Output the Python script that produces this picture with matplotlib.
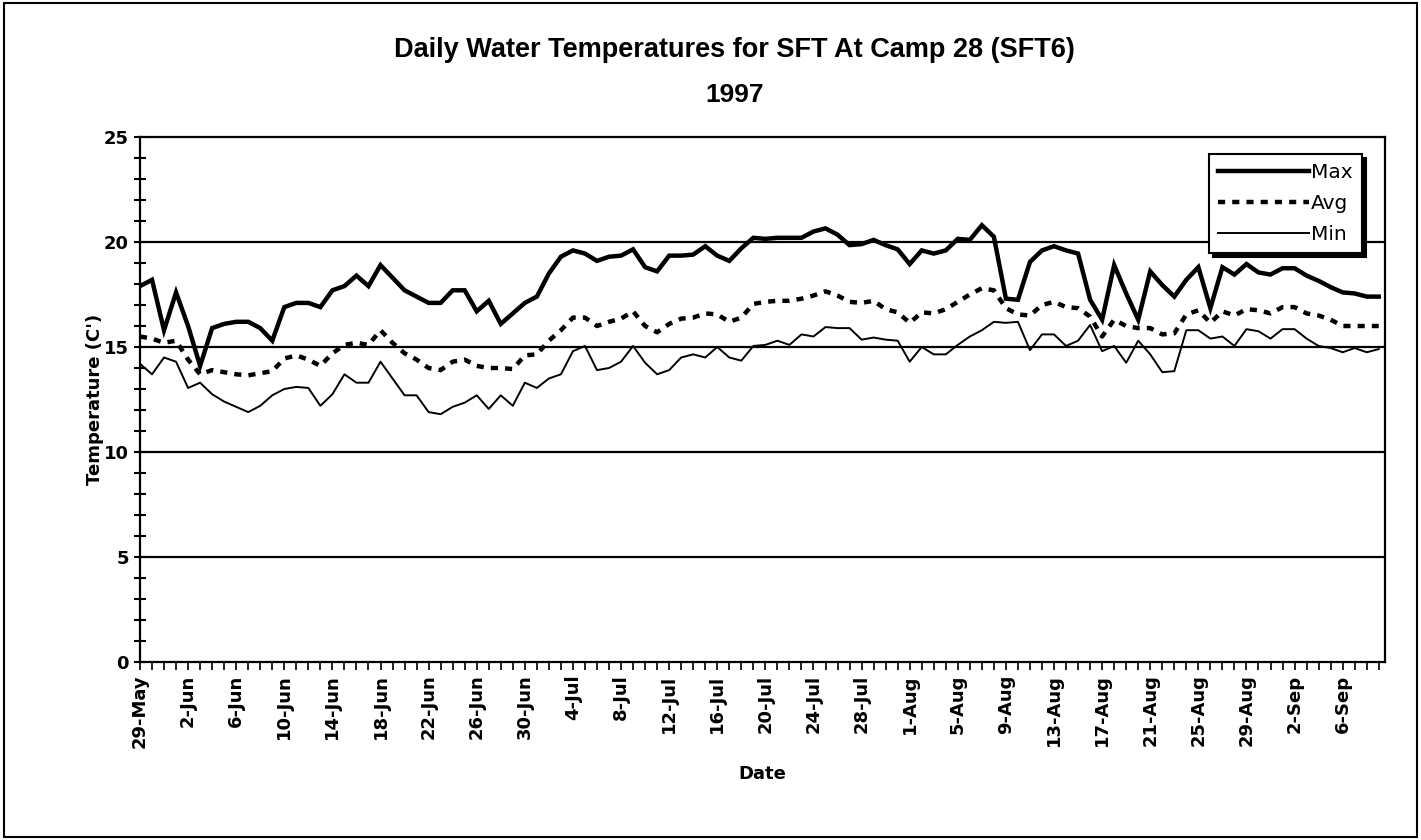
import matplotlib
matplotlib.use("Agg")
import matplotlib.pyplot as plt
import matplotlib.dates as mdates
import matplotlib.ticker as mticker
from matplotlib.patches import Rectangle
import pandas as pd

# daily water temperatures (C), 29-May to 9-Sep 1997
dates = pd.date_range("1997-05-29", "1997-09-09", freq="D")

max_t = [17.9, 18.2, 15.8, 17.6, 16.0, 14.1, 15.9, 16.1, 16.2, 16.2,
         15.9, 15.3, 16.9, 17.1, 17.1, 16.9, 17.7, 17.9, 18.4, 17.9,
         18.9, 18.3, 17.7, 17.4, 17.1, 17.1, 17.7, 17.7, 16.7, 17.2,
         16.1, 16.6, 17.1, 17.4, 18.5, 19.3, 19.6, 19.45, 19.1, 19.3,
         19.35, 19.65, 18.8, 18.6, 19.35, 19.35, 19.4, 19.8, 19.35, 19.1,
         19.7, 20.2, 20.15, 20.2, 20.2, 20.2, 20.5, 20.65, 20.35, 19.85,
         19.9, 20.1, 19.85, 19.65, 18.95, 19.6, 19.45, 19.6, 20.15, 20.1,
         20.8, 20.25, 17.3, 17.25, 19.05, 19.6, 19.8, 19.6, 19.45, 17.25,
         16.3, 18.9, 17.55, 16.3, 18.6, 17.95, 17.4, 18.2, 18.8, 16.85,
         18.8, 18.45, 18.95, 18.55, 18.45, 18.75, 18.75, 18.4, 18.15, 17.85,
         17.6, 17.55, 17.4, 17.4]

avg_t = [15.5, 15.4, 15.2, 15.3, 14.4, 13.7, 13.9, 13.8, 13.7, 13.65,
         13.75, 13.85, 14.45, 14.6, 14.4, 14.1, 14.7, 15.1, 15.2, 15.1,
         15.8, 15.2, 14.7, 14.4, 14.0, 13.9, 14.3, 14.4, 14.1, 14.0,
         14.0, 13.95, 14.6, 14.65, 15.3, 15.8, 16.4, 16.4, 16.0, 16.2,
         16.35, 16.7, 16.0, 15.7, 16.1, 16.35, 16.4, 16.6, 16.55, 16.2,
         16.4, 17.05, 17.15, 17.2, 17.2, 17.3, 17.45, 17.65, 17.45, 17.15,
         17.1, 17.2, 16.8, 16.65, 16.15, 16.65, 16.6, 16.8, 17.15, 17.5,
         17.8, 17.7, 16.85, 16.55, 16.5, 17.0, 17.15, 16.9, 16.85, 16.45,
         15.5, 16.3, 16.0, 15.9, 15.9, 15.6, 15.65, 16.55, 16.75, 16.15,
         16.7, 16.5, 16.8, 16.75, 16.6, 16.9, 16.9, 16.6, 16.5, 16.3,
         16.0, 16.0, 16.0, 16.0]

min_t = [14.2, 13.7, 14.5, 14.3, 13.05, 13.3, 12.75, 12.4, 12.15, 11.9,
         12.2, 12.7, 13.0, 13.1, 13.05, 12.2, 12.75, 13.7, 13.3, 13.3,
         14.3, 13.5, 12.7, 12.7, 11.9, 11.8, 12.15, 12.35, 12.7, 12.05,
         12.7, 12.2, 13.3, 13.05, 13.5, 13.7, 14.8, 15.05, 13.9, 14.0,
         14.3, 15.05, 14.25, 13.7, 13.9, 14.5, 14.65, 14.5, 15.0, 14.5,
         14.35, 15.05, 15.1, 15.3, 15.1, 15.6, 15.5, 15.95, 15.9, 15.9,
         15.35, 15.45, 15.35, 15.3, 14.3, 15.0, 14.65, 14.65, 15.1, 15.5,
         15.8, 16.2, 16.15, 16.2, 14.85, 15.6, 15.6, 15.05, 15.3, 16.05,
         14.8, 15.05, 14.25, 15.3, 14.65, 13.8, 13.85, 15.8, 15.8, 15.4,
         15.5, 15.05, 15.85, 15.75, 15.4, 15.85, 15.85, 15.4, 15.05, 14.95,
         14.75, 14.95, 14.75, 14.9]

title = "Daily Water Temperatures for SFT At Camp 28 (SFT6)"
subtitle = "1997"

fig = plt.figure(figsize=(14.21, 8.4), dpi=100)
ax = fig.add_axes([0.0985, 0.2119, 0.876, 0.625])

ax.plot(dates, max_t, color="black", lw=3.2, label="Max", solid_joinstyle="miter")
ax.plot(dates, avg_t, color="black", lw=3.2, linestyle=(0, (1.6, 1.6)), label="Avg")
ax.plot(dates, min_t, color="black", lw=1.4, label="Min")

# horizontal gridlines at every 5 degrees
for v in [5, 10, 15, 20]:
    ax.axhline(v, color="black", lw=1.6, zorder=0)

ax.set_ylim(0, 25)
ax.set_xlim(dates[0], dates[-1] + pd.Timedelta(hours=12))

ax.yaxis.set_major_locator(mticker.MultipleLocator(5))
ax.yaxis.set_minor_locator(mticker.MultipleLocator(1))
ax.tick_params(axis="y", which="both", direction="inout", length=9, width=1.5,
               labelsize=13)

# x: a tick every day, a label every 4 days
ax.xaxis.set_major_locator(mticker.FixedLocator(mdates.date2num(dates[::4])))
ax.xaxis.set_minor_locator(mdates.DayLocator())
ax.xaxis.set_major_formatter(
    mticker.FuncFormatter(lambda x, pos: f"{mdates.num2date(x).day}-{mdates.num2date(x):%b}"))
ax.tick_params(axis="x", which="both", direction="out", length=6, width=1.2,
               labelsize=13, labelrotation=90, pad=3)
for lab in ax.get_xticklabels() + ax.get_yticklabels():
    lab.set_fontweight("bold")

for s in ax.spines.values():
    s.set_linewidth(1.6)

ax.set_xlabel("Date", fontsize=13, fontweight="bold", labelpad=12)
ax.set_ylabel("Temperature (C')", fontsize=13, fontweight="bold", labelpad=0)

fig.text(0.517, 0.940, title, ha="center", va="center", fontsize=19.5,
         fontweight="bold", family="Liberation Sans")
fig.text(0.517, 0.887, subtitle, ha="center", va="center", fontsize=19,
         fontweight="bold", family="Liberation Sans")

leg = ax.legend(loc="upper right", bbox_to_anchor=(0.9895, 0.987), fontsize=14.5,
                frameon=True, fancybox=False, edgecolor="black", framealpha=1,
                handlelength=4.5, handletextpad=0.1, borderpad=0.45,
                labelspacing=0.6,
                shadow={"ox": 3, "oy": -3, "facecolor": "black",
                        "edgecolor": "black", "alpha": 1})
leg.get_frame().set_linewidth(1.5)

fig.add_artist(Rectangle((0.003, 0.004), 0.994, 0.992, transform=fig.transFigure,
                         fill=False, edgecolor="black", lw=1.5))

fig.savefig("out.png", dpi=100)
